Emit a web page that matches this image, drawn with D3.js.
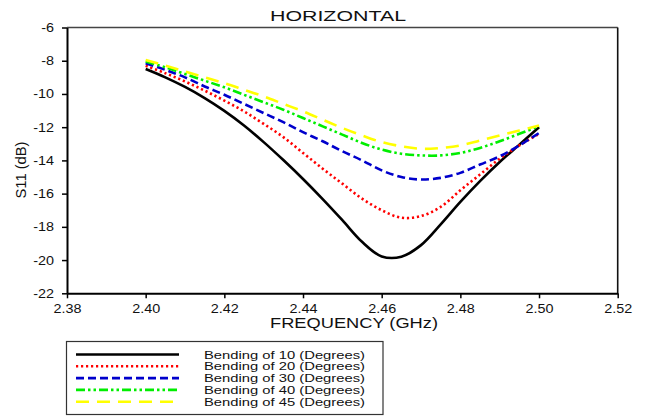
<!DOCTYPE html>
<html><head><meta charset="utf-8">
<script src="https://cdn.jsdelivr.net/npm/d3@7"></script>
<style>body{margin:0;background:#fff}svg{display:block;font-family:"Liberation Sans",Arial,sans-serif}</style>
</head><body><svg id="c" width="649" height="416"></svg>
<script>
const freq = [2.400,2.405,2.410,2.415,2.420,2.425,2.430,2.435,2.440,2.445,2.450,2.455,2.460,2.465,2.470,2.475,2.480,2.485,2.490,2.495,2.500];
const bend10 = [-8.5,-9.0,-9.58,-10.25,-11.02,-11.9,-12.9,-13.98,-15.12,-16.33,-17.6,-18.9,-19.78,-19.8,-19.1,-17.85,-16.5,-15.25,-14.1,-13.05,-12.0];
const bend20 = [-8.3,-8.75,-9.25,-9.8,-10.4,-11.05,-11.8,-12.6,-13.55,-14.5,-15.4,-16.3,-17.0,-17.45,-17.35,-16.8,-15.8,-14.85,-13.9,-13.1,-12.4];
const bend30 = [-8.15,-8.55,-9.0,-9.55,-10.05,-10.6,-11.15,-11.7,-12.3,-12.85,-13.45,-14.0,-14.6,-15.0,-15.15,-15.05,-14.75,-14.25,-13.75,-13.1,-12.35];
const bend40 = [-8.05,-8.4,-8.8,-9.2,-9.6,-10.05,-10.5,-10.95,-11.45,-11.95,-12.45,-12.95,-13.35,-13.6,-13.7,-13.7,-13.55,-13.25,-12.85,-12.4,-11.95];
const bend45 = [-7.95,-8.3,-8.65,-9.0,-9.35,-9.75,-10.15,-10.6,-11.05,-11.55,-12.05,-12.5,-12.9,-13.15,-13.3,-13.25,-13.1,-12.8,-12.5,-12.2,-11.9];
const seriesNames = ["Bending of 10 (Degrees)","Bending of 20 (Degrees)","Bending of 30 (Degrees)","Bending of 40 (Degrees)","Bending of 45 (Degrees)"];
const xTicks = [2.38,2.40,2.42,2.44,2.46,2.48,2.50,2.52];
const yTicks = [-22,-20,-18,-16,-14,-12,-10,-8,-6];

const styles = [
  {color:"#000000", dash:null, w:2.6},
  {color:"#ff0000", dash:"2.2,2.8", w:2.6},
  {color:"#0000cc", dash:"8,4", w:2.6},
  {color:"#00ee00", dash:"9,3,2.5,3,2.5,3", w:2.6},
  {color:"#ffff00", dash:"13,8", w:2.6}
];
const allSeries = [bend10,bend20,bend30,bend40,bend45];

const svg = d3.select("#c");
const L=67, R=617.7, T=27.5, B=293.3;
const x = d3.scaleLinear().domain([2.38,2.52]).range([L,R]);
const y = d3.scaleLinear().domain([-22,-6]).range([B,T]);

function stretch(sel, f){ sel.each(function(){ const w=this.getComputedTextLength(); this.setAttribute("textLength", w*f); this.setAttribute("lengthAdjust","spacingAndGlyphs"); }); }

// frame
svg.append("line").attr("x1",L).attr("x2",R).attr("y1",T).attr("y2",T).attr("stroke","#444").attr("stroke-width",1.6);
svg.append("line").attr("x1",R).attr("x2",R).attr("y1",T).attr("y2",B).attr("stroke","#111").attr("stroke-width",1.6);

const xAxis = svg.append("g").attr("transform",`translate(0,${B})`)
  .call(d3.axisBottom(x).tickValues(xTicks).tickFormat(d3.format(".2f")).tickSize(5).tickSizeOuter(0));
const yAxis = svg.append("g").attr("transform",`translate(${L},0)`)
  .call(d3.axisLeft(y).tickValues(yTicks).tickFormat(d=>d).tickSize(5).tickSizeOuter(0));
[xAxis,yAxis].forEach(a=>{
  a.select(".domain").attr("stroke","#000").attr("stroke-width",2);
  a.selectAll(".tick line").attr("stroke","#000").attr("stroke-width",1.5);
  a.selectAll(".tick text").attr("font-size",12.5).attr("fill","#111").attr("font-family","Liberation Sans, Arial, sans-serif");
});
xAxis.selectAll(".tick text").attr("dy","0.95em");
yAxis.selectAll(".tick text").attr("dx","-5");
stretch(xAxis.selectAll(".tick text"),1.15);
stretch(yAxis.selectAll(".tick text"),1.15);

const line = d3.line().x((d,i)=>x(freq[i])).y(d=>y(d)).curve(d3.curveCatmullRom.alpha(0.5));
allSeries.forEach((s,k)=>{
  svg.append("path").datum(s).attr("d",line).attr("fill","none")
    .attr("stroke",styles[k].color).attr("stroke-width",styles[k].w)
    .attr("stroke-dasharray",styles[k].dash);
});

svg.append("text").attr("x",338).attr("y",20.5).attr("text-anchor","middle").attr("font-size",14.5).attr("fill","#111")
  .attr("textLength",136).attr("lengthAdjust","spacingAndGlyphs").text("HORIZONTAL");
svg.append("text").attr("x",354).attr("y",328).attr("text-anchor","middle").attr("font-size",14.5).attr("fill","#111")
  .attr("textLength",168).attr("lengthAdjust","spacingAndGlyphs").text("FREQUENCY (GHz)");
svg.append("text").attr("transform","translate(26,170) rotate(-90)").attr("text-anchor","middle").attr("font-size",14.5).attr("fill","#111")
  .attr("textLength",57).attr("lengthAdjust","spacingAndGlyphs").text("S11 (dB)");

// legend
const lg = svg.append("g");
lg.append("rect").attr("x",66.5).attr("y",341.5).attr("width",316.5).attr("height",73).attr("fill","#fff").attr("stroke","#333").attr("stroke-width",1.2);
seriesNames.forEach((n,k)=>{
  const yy = 354.5 + k*11.8;
  lg.append("line").attr("x1",76).attr("x2",179).attr("y1",yy).attr("y2",yy)
    .attr("stroke",styles[k].color).attr("stroke-width",styles[k].w).attr("stroke-dasharray",styles[k].dash);
  lg.append("text").attr("x",204).attr("y",yy+4).attr("font-size",11.2).attr("fill","#111")
    .attr("textLength",161).attr("lengthAdjust","spacingAndGlyphs").text(n);
});
</script></body></html>
